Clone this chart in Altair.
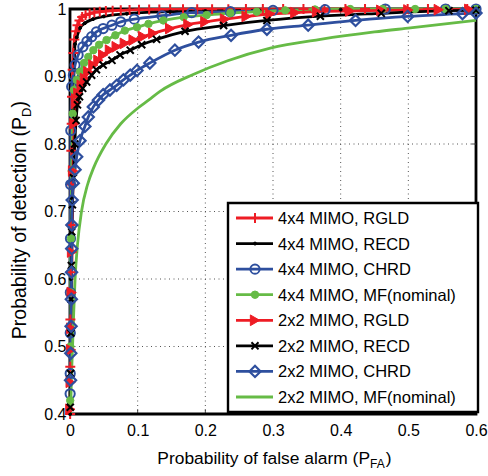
import altair as alt
import pandas as pd

FONT = "Liberation Sans"

series_names = ["4x4 MIMO, RGLD", "4x4 MIMO, RECD", "4x4 MIMO, CHRD", "4x4 MIMO, MF(nominal)",
                "2x2 MIMO, RGLD", "2x2 MIMO, RECD", "2x2 MIMO, CHRD", "2x2 MIMO, MF(nominal)"]

pfa_4x4_rgld = [0.0002, 0.0004, 0.0006, 0.0009, 0.0012, 0.0016, 0.002, 0.0025, 0.003, 0.004,
                0.005, 0.0065, 0.0085, 0.011, 0.014, 0.018, 0.023, 0.029, 0.036, 0.044,
                0.053, 0.063, 0.075, 0.088, 0.102, 0.117, 0.132, 0.148, 0.167, 0.188,
                0.21, 0.234, 0.26, 0.285, 0.315, 0.345, 0.376, 0.407, 0.436, 0.466,
                0.499, 0.529, 0.558, 0.587]
pd_4x4_rgld = [0.40, 0.47, 0.54, 0.61, 0.68, 0.74, 0.79, 0.83, 0.87, 0.91,
               0.935, 0.955, 0.967, 0.976, 0.983, 0.988, 0.991, 0.993, 0.995, 0.996,
               0.997, 0.9975, 0.998, 0.9985, 0.999, 0.9992, 0.9994, 0.9995, 0.9996, 0.9997,
               0.9998, 0.9998, 0.9999, 0.9999, 1.0, 1.0, 1.0, 1.0, 1.0, 1.0,
               1.0, 1.0, 1.0, 1.0]

pfa_4x4_recd = [0.0002, 0.0005, 0.001, 0.0015, 0.002, 0.003, 0.0044, 0.006, 0.0074, 0.01,
                0.015, 0.022, 0.034, 0.05, 0.084, 0.148, 0.2, 0.28, 0.4, 0.5, 0.6]
pd_4x4_recd = [0.40, 0.50, 0.60, 0.67, 0.72, 0.79, 0.85, 0.91, 0.948, 0.958,
               0.972, 0.979, 0.985, 0.989, 0.993, 0.996, 0.997, 0.998, 0.999, 0.9995, 1.0]

pfa_4x4_chrd = [0.0002, 0.0003, 0.0004, 0.0005, 0.0007, 0.0009, 0.0012, 0.0025, 0.005, 0.0075,
                0.012, 0.019, 0.025, 0.032, 0.039, 0.049, 0.062, 0.075, 0.095, 0.136,
                0.18, 0.237, 0.3, 0.377, 0.466, 0.555, 0.6]
pd_4x4_chrd = [0.43, 0.46, 0.52, 0.58, 0.66, 0.74, 0.82, 0.885, 0.902, 0.917,
               0.932, 0.944, 0.952, 0.959, 0.966, 0.971, 0.976, 0.981, 0.985, 0.990,
               0.9946, 0.996, 0.998, 0.999, 1.0, 1.0, 1.0]

pfa_4x4_mf = [0.0003, 0.0006, 0.001, 0.0015, 0.0025, 0.004, 0.0059, 0.0099, 0.0148, 0.0207,
              0.027, 0.0345, 0.043, 0.054, 0.067, 0.081, 0.099, 0.116, 0.138, 0.168,
              0.202, 0.237, 0.276, 0.318, 0.362, 0.414, 0.462, 0.51, 0.555, 0.6]
pd_4x4_mf = [0.42, 0.50, 0.58, 0.66, 0.76, 0.845, 0.880, 0.895, 0.907, 0.920,
             0.929, 0.939, 0.947, 0.954, 0.961, 0.968, 0.973, 0.978, 0.983, 0.988,
             0.991, 0.994, 0.996, 0.998, 0.9993, 1.0, 1.0, 1.0, 1.0, 1.0]

pfa_2x2_rgld = [0.0005, 0.001, 0.0015, 0.002, 0.0025, 0.003, 0.0045, 0.0065, 0.0085, 0.0123,
                0.0172, 0.022, 0.027, 0.0345, 0.042, 0.049, 0.059, 0.069, 0.081, 0.094,
                0.108, 0.123, 0.148, 0.175, 0.2, 0.229, 0.261, 0.296, 0.333, 0.365,
                0.414, 0.46, 0.5, 0.545, 0.59]
pd_2x2_rgld = [0.407, 0.447, 0.495, 0.527, 0.58, 0.64, 0.76, 0.83, 0.86, 0.875,
               0.887, 0.897, 0.907, 0.917, 0.924, 0.932, 0.939, 0.944, 0.949, 0.954,
               0.959, 0.964, 0.971, 0.977, 0.981, 0.985, 0.989, 0.9926, 0.9945, 0.996,
               0.997, 0.998, 0.9985, 0.999, 0.9993]

pfa_2x2_recd = [0.0004, 0.0008, 0.0012, 0.0016, 0.002, 0.0025, 0.0035, 0.005, 0.007, 0.009,
                0.011, 0.014, 0.0187, 0.0246, 0.032, 0.039, 0.049, 0.062, 0.074, 0.089,
                0.106, 0.128, 0.17, 0.227, 0.291, 0.37, 0.46, 0.56, 0.6]
pd_2x2_recd = [0.41, 0.46, 0.52, 0.57, 0.62, 0.67, 0.71, 0.75, 0.80, 0.835,
               0.858, 0.870, 0.8825, 0.892, 0.902, 0.910, 0.917, 0.924, 0.932, 0.939,
               0.947, 0.955, 0.967, 0.9755, 0.983, 0.9893, 0.9936, 0.9975, 0.998]

pfa_2x2_chrd = [0.0008, 0.0012, 0.0016, 0.002, 0.0023, 0.0026, 0.0028, 0.0032, 0.0049, 0.0075,
                0.0099, 0.0148, 0.022, 0.027, 0.0345, 0.042, 0.049, 0.059, 0.069, 0.079,
                0.089, 0.099, 0.118, 0.155, 0.19, 0.238, 0.291, 0.352, 0.422, 0.499,
                0.58, 0.6]
pd_2x2_chrd = [0.45, 0.49, 0.53, 0.57, 0.61, 0.645, 0.68, 0.717, 0.742, 0.762,
               0.781, 0.805, 0.826, 0.840, 0.855, 0.865, 0.873, 0.880, 0.887, 0.895,
               0.902, 0.909, 0.920, 0.939, 0.951, 0.961, 0.970, 0.976, 0.983, 0.989,
               0.993, 0.994]

pfa_2x2_mf = [0.0008, 0.002, 0.0038, 0.0055, 0.0075, 0.011, 0.017, 0.026, 0.035, 0.053,
              0.075, 0.1, 0.116, 0.133, 0.182, 0.232, 0.296, 0.37, 0.45, 0.503, 0.6]
pd_2x2_mf = [0.40, 0.45, 0.50, 0.55, 0.60, 0.65, 0.70, 0.74, 0.765, 0.80,
             0.83, 0.853, 0.865, 0.878, 0.903, 0.923, 0.942, 0.955, 0.966, 0.972, 0.983]

x_ticks = [0, 0.1, 0.2, 0.3, 0.4, 0.5, 0.6]
y_ticks = [0.4, 0.5, 0.6, 0.7, 0.8, 0.9, 1.0]

all_pfa = [pfa_4x4_rgld, pfa_4x4_recd, pfa_4x4_chrd, pfa_4x4_mf,
           pfa_2x2_rgld, pfa_2x2_recd, pfa_2x2_chrd, pfa_2x2_mf]
all_pd = [pd_4x4_rgld, pd_4x4_recd, pd_4x4_chrd, pd_4x4_mf,
          pd_2x2_rgld, pd_2x2_recd, pd_2x2_chrd, pd_2x2_mf]

# ---- styles ----
RED, BLACK, BLUE, GREEN = "#ee1c24", "#000000", "#2e4f9e", "#66bb46"
PLUS = "M-1,0L1,0M0,-1L0,1"
CROSS = "M-1,-1L1,1M-1,1L1,-1"
colors = [RED, BLACK, BLUE, GREEN, RED, BLACK, BLUE, GREEN]
shapes = [PLUS, "circle", "circle", "circle", "triangle-right", CROSS, "diamond", "circle"]
fills = ["transparent", BLACK, "transparent", GREEN, RED, "transparent", "transparent", "transparent"]
sizes = [100, 9, 85, 55, 115, 50, 125, 1]
stroke_ws = [2, 1, 2, 1, 1, 2, 2.2, 1]
has_marker = [True, True, True, True, True, True, True, False]

rows = []
for i, (name, xs, ys) in enumerate(zip(series_names, all_pfa, all_pd)):
    for k, (xv, yv) in enumerate(zip(xs, ys)):
        rows.append({"series": name, "pfa": xv, "pd": yv, "k": k, "marker": has_marker[i]})
df = pd.DataFrame(rows)
legend_df = pd.DataFrame({"series": series_names, "marker": has_marker})

W, H = 406, 405

cscale = alt.Scale(domain=series_names, range=colors)
fscale = alt.Scale(domain=series_names, range=fills)
sscale = alt.Scale(domain=series_names, range=shapes)
zscale = alt.Scale(type="ordinal", domain=series_names, range=sizes)
wscale = alt.Scale(type="ordinal", domain=series_names, range=stroke_ws)

xscale = alt.Scale(domain=[0, 0.6], nice=False, zero=False)
yscale = alt.Scale(domain=[0.4, 1.0], nice=False, zero=False)
xaxis = alt.Axis(values=x_ticks, format="~g", title=None, labelFontSize=16, labelFont=FONT,
                 labelColor="black", tickSize=0, domain=False, grid=False, labelPadding=8,
                 labelFlush=False, labelOverlap=False)
yaxis = alt.Axis(values=y_ticks, format="~g", title=None, labelFontSize=16, labelFont=FONT,
                 labelColor="black", tickSize=0, domain=False, grid=False, labelPadding=4,
                 labelFlush=False, labelOverlap=False)

X = alt.X("pfa:Q", scale=xscale, axis=xaxis)
Y = alt.Y("pd:Q", scale=yscale, axis=yaxis)

grid_x = alt.Chart(pd.DataFrame({"pfa": x_ticks[1:-1]})).mark_rule(
    color="#555", strokeWidth=1, strokeDash=[1, 3.5]).encode(x=X)
grid_y = alt.Chart(pd.DataFrame({"pd": y_ticks[1:-1]})).mark_rule(
    color="#555", strokeWidth=1, strokeDash=[1, 3.5]).encode(y=Y)

xt = alt.Chart(pd.DataFrame({"pfa": x_ticks}))
yt = alt.Chart(pd.DataFrame({"pd": y_ticks}))
tick_kw = dict(clip=True, color="black", thickness=1, size=9)
ticks = [
    xt.mark_tick(**tick_kw).encode(x=X, y=alt.value(H)),
    xt.mark_tick(**tick_kw).encode(x=X, y=alt.value(0)),
    yt.mark_tick(**tick_kw).encode(y=Y, x=alt.value(0)),
    yt.mark_tick(**tick_kw).encode(y=Y, x=alt.value(W)),
]

lines = alt.Chart(df).mark_line(strokeWidth=2.8, interpolate="monotone").encode(
    x=X, y=Y, color=alt.Color("series:N", scale=cscale, legend=None), order="k:Q")

points = alt.Chart(df).transform_filter("datum.marker").mark_point(opacity=1).encode(
    x=X, y=Y,
    color=alt.Color("series:N", scale=cscale, legend=None),
    fill=alt.Fill("series:N", scale=fscale, legend=None),
    shape=alt.Shape("series:N", scale=sscale, legend=None),
    size=alt.Size("series:N", scale=zscale, legend=None),
    strokeWidth=alt.StrokeWidth("series:N", scale=wscale, legend=None),
)

main = alt.layer(grid_x, grid_y, *ticks, lines, points)

# ---- legend ----
LY = alt.Y("series:N", scale=alt.Scale(type="point", domain=series_names, range=[209, 388], padding=0),
           axis=None)
box = alt.Chart(pd.DataFrame({"a": [0]})).mark_rect(fill="white", stroke="black", strokeWidth=2.4).encode(
    x=alt.value(158), x2=alt.value(408), y=alt.value(194), y2=alt.value(403))
leg_lines = alt.Chart(legend_df).mark_rule(strokeWidth=2.8).encode(
    x=alt.value(166), x2=alt.value(203), y=LY,
    color=alt.Color("series:N", scale=cscale, legend=None))
leg_pts = alt.Chart(legend_df).transform_filter("datum.marker").mark_point(opacity=1).encode(
    x=alt.value(185), y=LY,
    color=alt.Color("series:N", scale=cscale, legend=None),
    fill=alt.Fill("series:N", scale=fscale, legend=None),
    shape=alt.Shape("series:N", scale=sscale, legend=None),
    size=alt.Size("series:N", scale=zscale, legend=None),
    strokeWidth=alt.StrokeWidth("series:N", scale=wscale, legend=None),
)
leg_text = alt.Chart(legend_df).mark_text(align="left", baseline="middle", fontSize=16.5, font=FONT,
                                          color="black", dy=1).encode(
    x=alt.value(208), y=LY, text="series:N")
legend = alt.layer(box, leg_lines, leg_pts, leg_text)

# ---- axis titles with subscripts ----
one = pd.DataFrame({"a": [0]})
xt_end = 300
titles = alt.layer(
    alt.Chart(one).mark_text(text="Probability of false alarm (P", align="right", baseline="alphabetic",
                             fontSize=17.4, font=FONT, color="black").encode(x=alt.value(xt_end), y=alt.value(455)),
    alt.Chart(one).mark_text(text="FA", align="left", baseline="alphabetic",
                             fontSize=12, font=FONT, color="black").encode(x=alt.value(xt_end), y=alt.value(459)),
    alt.Chart(one).mark_text(text=")", align="left", baseline="alphabetic",
                             fontSize=17.4, font=FONT, color="black").encode(x=alt.value(xt_end + 15.8), y=alt.value(455)),
    alt.Chart(one).mark_text(text="Probability of detection (P", align="right", baseline="alphabetic",
                             angle=270, fontSize=19.5, font=FONT, color="black").encode(x=alt.value(-44), y=alt.value(108)),
    alt.Chart(one).mark_text(text="D", align="left", baseline="alphabetic",
                             angle=270, fontSize=13, font=FONT, color="black").encode(x=alt.value(-39), y=alt.value(108)),
    alt.Chart(one).mark_text(text=")", align="left", baseline="alphabetic",
                             angle=270, fontSize=19.5, font=FONT, color="black").encode(x=alt.value(-44), y=alt.value(98.5)),
)

chart = alt.layer(main, legend, titles).resolve_scale(y="independent").properties(
    width=W, height=H,
    padding={"left": 70, "top": 9, "right": 12, "bottom": 62},
    autosize=alt.AutoSizeParams(type="none"),
    background="white",
).configure_view(stroke="black", strokeWidth=2.8)

chart.save("out.html", embed_options={"renderer": "svg", "actions": False})
